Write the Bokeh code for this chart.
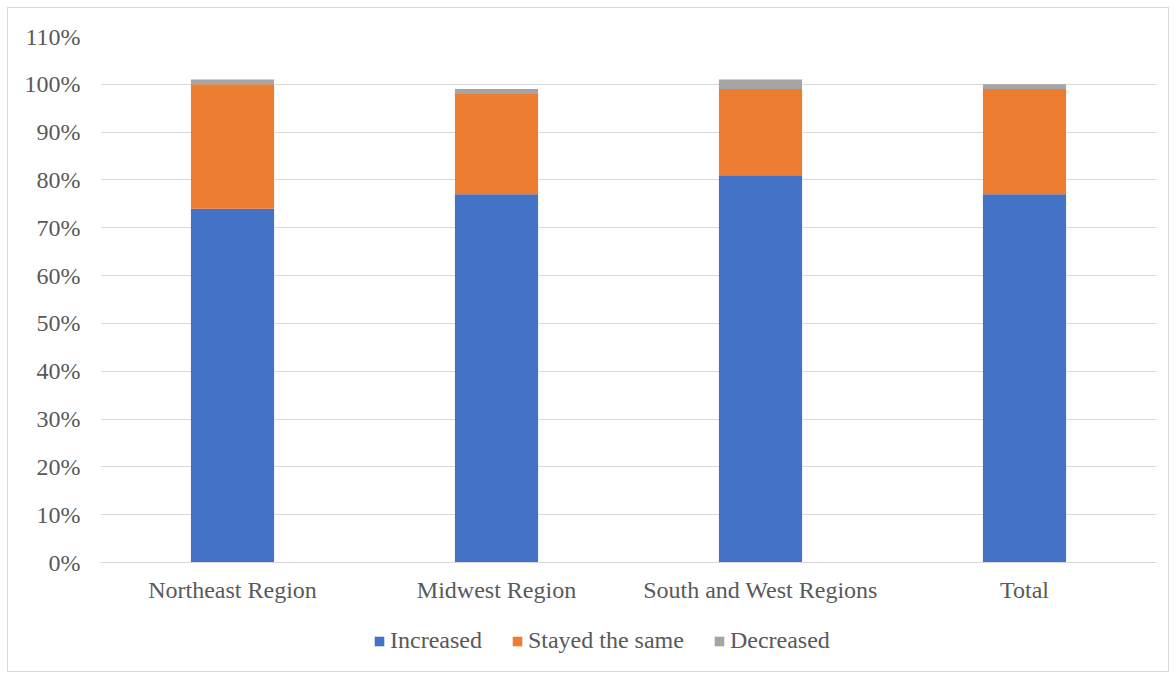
from bokeh.plotting import figure
from bokeh.layouts import column
from bokeh.models import ColumnDataSource, FactorRange, Range1d, Legend, LegendItem, PrintfTickFormatter, FixedTicker
from bokeh.embed import file_html
from bokeh.resources import INLINE

regions = ["Northeast Region", "Midwest Region", "South and West Regions", "Total"]
increased = [74, 77, 81, 77]
stayed_same = [26, 21, 18, 22]
decreased = [1, 1, 2, 1]
series_names = ["Increased", "Stayed the same", "Decreased"]
colors = ["#4472C4", "#ED7D31", "#A5A5A5"]
stack_keys = ["increased", "stayed", "decreased"]

source = ColumnDataSource(dict(
    region=regions,
    increased=increased,
    stayed=stayed_same,
    decreased=decreased,
))

FONT = "Liberation Serif"
TEXT = "#595959"
GRID = "#d9d9d9"
FS = "24px"

p = figure(
    x_range=FactorRange(*regions, range_padding=0.0),
    y_range=Range1d(0, 110),
    width=1160, height=601,
    output_backend="svg", toolbar_location=None,
    min_border_left=92, min_border_right=12,
    min_border_top=28, min_border_bottom=47,
)
p.outline_line_color = None

p.vbar_stack(
    stack_keys, x="region", width=0.315,
    color=colors, source=source, line_color=None,
)

# y axis: percent ticks every 10, no line or ticks
p.yaxis.ticker = FixedTicker(ticks=list(range(0, 111, 10)))
p.yaxis.formatter = PrintfTickFormatter(format="%d%%")
p.yaxis.axis_line_color = None
p.yaxis.major_tick_line_color = None
p.yaxis.minor_tick_line_color = None
p.yaxis.major_label_text_font = FONT
p.yaxis.major_label_text_font_size = FS
p.yaxis.major_label_text_color = TEXT
p.yaxis.major_label_standoff = 14

# x axis: thin gray baseline, category labels
p.xaxis.axis_line_color = GRID
p.xaxis.axis_line_width = 1
p.xaxis.major_tick_line_color = None
p.xaxis.minor_tick_line_color = None
p.xaxis.major_label_text_font = FONT
p.xaxis.major_label_text_font_size = FS
p.xaxis.major_label_text_color = TEXT
p.xaxis.major_label_standoff = 8

p.xgrid.grid_line_color = None
p.ygrid.grid_line_color = GRID
p.ygrid.grid_line_width = 1

# legend strip underneath the chart; its swatch renderers are zero-height bars
leg = figure(
    width=1160, height=62,
    output_backend="svg", toolbar_location=None,
    x_range=Range1d(0, 1), y_range=Range1d(0, 1),
    x_axis_type=None, y_axis_type=None,
    min_border=0,
)
leg.grid.grid_line_color = None
leg.outline_line_color = None
swatch_src = ColumnDataSource(dict(x=[0.5], top=[0.0]))
swatches = [leg.vbar(x="x", top="top", width=0.01, color=c, line_color=None, source=swatch_src)
            for c in colors]

legend = Legend(
    items=[LegendItem(label=n, renderers=[r]) for n, r in zip(series_names, swatches)],
    orientation="horizontal",
    location=(273, 17),
    label_text_font=FONT,
    label_text_font_size=FS,
    label_text_color=TEXT,
    glyph_width=12, glyph_height=12,
    label_standoff=5,
    spacing=29,
    border_line_color=None,
    background_fill_alpha=0,
    margin=0,
    padding=0,
)
leg.add_layout(legend, "center")

layout = column(
    p, leg,
    spacing=0,
    margin=(7, 0, 0, 7),
    styles={"border": "1px solid #d9d9d9"},
)

open("out.html", "w").write(file_html(layout, INLINE))
